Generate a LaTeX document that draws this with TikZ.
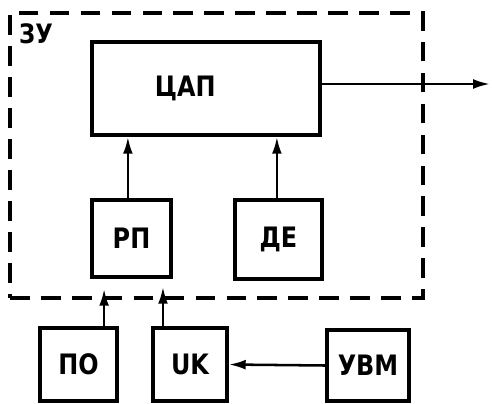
\documentclass[tikz,border=0pt]{standalone}
\usepackage{fontspec}
\setmainfont{DejaVu Sans}[FakeStretch=0.85]
\usetikzlibrary{arrows.meta, positioning}

\begin{document}
\begin{tikzpicture}[x=0.025cm, y=-0.025cm,
  block/.style={draw, line width=2.6pt, inner sep=0pt, font=\bfseries\fontsize{20}{20}\selectfont},
  caption/.style={font=\bfseries\fontsize{19}{19}\selectfont},
  link/.style={line width=1.8pt, -{Latex[length=12pt,width=7pt]}}]

\useasboundingbox (0,0) rectangle (492,403);

% Rahmen ZU (gestrichelt)
\node[draw, line width=2.6pt, dash pattern=on 14pt off 8pt, minimum width=10.325cm, minimum height=7.125cm, inner sep=0pt] (zu) at (216.5,155.5) {};
\node[caption] (zulabel) at (36,34) {ЗУ};

% Bloecke im Speicher
\node[block, minimum width=5.7cm, minimum height=2.325cm,
      label={[caption, font=\bfseries\fontsize{20}{20}\selectfont, xshift=-0.52cm]center:ЦАП}] (cap) at (206,88.5) {};
\node[block, minimum width=1.975cm, minimum height=1.925cm] (rp) at (131.5,238.5) {РП};
\node[block, minimum width=2.175cm, minimum height=1.975cm] (de) at (278.5,239.5) {ДЕ};

% Bloecke unten
\node[block, minimum width=1.925cm, minimum height=1.825cm] (po) at (78.5,364.5) {ПО};
\node[block, minimum width=1.85cm, minimum height=1.825cm] (uk) at (190,364.5) {UK};
\node[block, minimum width=2.05cm, minimum height=1.775cm] (uvm) at (368,365.5) {УВМ};

% Verbindungen
\coordinate (out) at (490,84);
\draw[link] (cap.east |- out) -- (out);
\draw[link] ([xshift=-0.09cm]rp.north) -- ([xshift=-0.09cm]rp.north |- cap.south);
\draw[link] ([xshift=-0.04cm]de.north) -- ([xshift=-0.04cm]de.north |- cap.south);
\draw[link, shorten >=0.25cm] ([xshift=0.64cm]po.north) -- ([xshift=0.64cm]po.north |- rp.south);
\draw[link, shorten >=0.2cm] ([xshift=-0.675cm]uk.north) -- ([xshift=-0.675cm]uk.north |- rp.south);
\draw[link] (uvm.west) -- (uk.east);

\end{tikzpicture}
\end{document}
